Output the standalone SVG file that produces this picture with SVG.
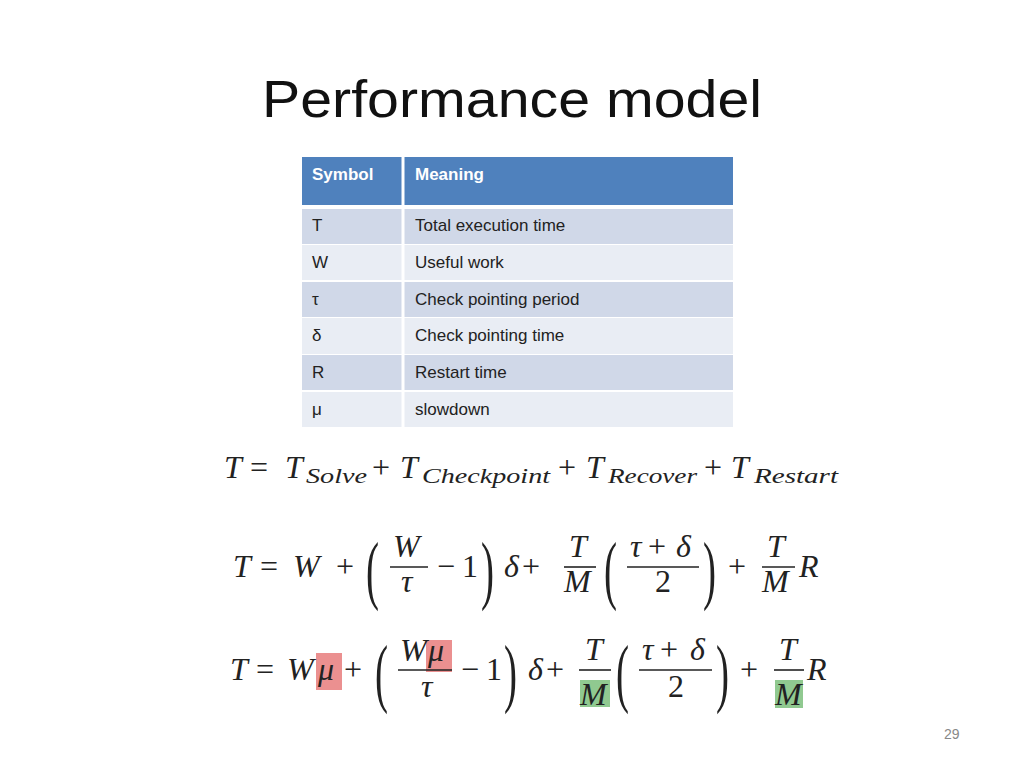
<svg xmlns="http://www.w3.org/2000/svg" width="1024" height="768" viewBox="0 0 1024 768">
<style>
.t{font-family:"Liberation Sans",Arial,sans-serif;font-size:17px;fill:#222}
.h{font-family:"Liberation Sans",Arial,sans-serif;font-size:17px;fill:#fff;font-weight:bold}
.m{font-family:"Liberation Serif","DejaVu Serif",serif;font-size:32px;font-style:italic;fill:#222}
.r{font-family:"Liberation Serif","DejaVu Serif",serif;font-size:32px;fill:#222}
.s{font-family:"Liberation Serif","DejaVu Serif",serif;font-size:22px;font-style:italic;fill:#222}
.p{font-family:"Liberation Serif","DejaVu Serif",serif;font-size:76px;fill:#222}
.bar{stroke:#222;stroke-width:1.6}
.dk{fill:#D0D8E8}.lt{fill:#E9EDF4}
.red{fill:#E87C7C;opacity:.85}.grn{fill:#7CC07C;opacity:.85}
</style>
<rect width="1024" height="768" fill="#fff"/>
<text x="262" y="117" font-family="Liberation Sans,Arial,sans-serif" font-size="52" fill="#111" textLength="500" lengthAdjust="spacingAndGlyphs">Performance model</text>
<g id="table">
<rect x="302" y="157" width="431" height="48" fill="#4F81BD"/>
<text class="h" x="312" y="180">Symbol</text><text class="h" x="415" y="180">Meaning</text>
<rect class="dk" x="302" y="209" width="431" height="35"/>
<rect class="lt" x="302" y="245" width="431" height="35"/>
<rect class="dk" x="302" y="282" width="431" height="35"/>
<rect class="lt" x="302" y="318" width="431" height="36"/>
<rect class="dk" x="302" y="355" width="431" height="35"/>
<rect class="lt" x="302" y="392" width="431" height="35"/>
<g stroke="#fff" stroke-width="3"><line x1="403" y1="157" x2="403" y2="427"/></g>
<text class="t" x="312" y="231">T</text><text class="t" x="415" y="231">Total execution time</text>
<text class="t" x="312" y="268">W</text><text class="t" x="415" y="268">Useful work</text>
<text class="t" x="312" y="305">τ</text><text class="t" x="415" y="305">Check pointing period</text>
<text class="t" x="312" y="341">δ</text><text class="t" x="415" y="341">Check pointing time</text>
<text class="t" x="312" y="378">R</text><text class="t" x="415" y="378">Restart time</text>
<text class="t" x="312" y="415">μ</text><text class="t" x="415" y="415">slowdown</text>
</g>
<g id="eq1">
<text class="m" x="224" y="478">T</text><text class="r" x="250" y="478">=</text>
<text class="m" x="285" y="478">T</text><text class="s" x="306" y="483" textLength="61" lengthAdjust="spacingAndGlyphs">Solve</text>
<text class="r" x="372" y="478">+</text>
<text class="m" x="400" y="478">T</text><text class="s" x="422" y="483" textLength="128" lengthAdjust="spacingAndGlyphs">Checkpoint</text>
<text class="r" x="558" y="478">+</text>
<text class="m" x="586" y="478">T</text><text class="s" x="608" y="483" textLength="89" lengthAdjust="spacingAndGlyphs">Recover</text>
<text class="r" x="704" y="478">+</text>
<text class="m" x="731" y="478">T</text><text class="s" x="754" y="483" textLength="84" lengthAdjust="spacingAndGlyphs">Restart</text>
</g>
<g id="eq2">
<text class="m" x="233" y="577">T</text><text class="r" x="260" y="577">=</text>
<text class="m" x="293" y="577">W</text><text class="r" x="336" y="577">+</text>
<text class="p" x="366" y="595" textLength="13" lengthAdjust="spacingAndGlyphs">(</text>
<text class="m" x="393" y="557">W</text><line class="bar" x1="390" y1="567" x2="428" y2="567"/><text class="m" x="401" y="592">τ</text>
<text class="r" x="437" y="577">−</text><text class="r" x="462" y="577">1</text>
<text class="p" x="481" y="595" textLength="13" lengthAdjust="spacingAndGlyphs">)</text>
<text class="m" x="504" y="577">δ</text><text class="r" x="522" y="577">+</text>
<text class="m" x="569" y="557">T</text><line class="bar" x1="564" y1="567" x2="596" y2="567"/><text class="m" x="564" y="592">M</text>
<text class="p" x="604" y="595" textLength="13" lengthAdjust="spacingAndGlyphs">(</text>
<text class="m" x="630" y="557">τ</text><text class="r" x="648" y="557">+</text><text class="m" x="676" y="557">δ</text>
<line class="bar" x1="627" y1="567" x2="699" y2="567"/><text class="r" x="655" y="592">2</text>
<text class="p" x="703" y="595" textLength="13" lengthAdjust="spacingAndGlyphs">)</text>
<text class="r" x="728" y="577">+</text>
<text class="m" x="767" y="557">T</text><line class="bar" x1="762" y1="567" x2="795" y2="567"/><text class="m" x="762" y="592">M</text>
<text class="m" x="799" y="577">R</text>
</g>
<g id="eq3">
<rect class="red" x="316" y="653" width="26" height="37"/>
<rect class="red" x="426" y="640" width="26" height="32"/>
<rect class="grn" x="580" y="680" width="30" height="27"/>
<rect class="grn" x="775" y="680" width="28" height="28"/>
<text class="m" x="230" y="680">T</text><text class="r" x="256" y="680">=</text>
<text class="m" x="287" y="680">W</text><text class="m" x="318" y="680">μ</text><text class="r" x="344" y="680">+</text>
<text class="p" x="375" y="698" textLength="13" lengthAdjust="spacingAndGlyphs">(</text>
<text class="m" x="400" y="661">W</text><text class="m" x="428" y="661">μ</text>
<line class="bar" x1="398" y1="670" x2="452" y2="670"/><text class="m" x="421" y="697">τ</text>
<text class="r" x="461" y="680">−</text><text class="r" x="486" y="680">1</text>
<text class="p" x="504" y="698" textLength="13" lengthAdjust="spacingAndGlyphs">)</text>
<text class="m" x="528" y="680">δ</text><text class="r" x="546" y="680">+</text>
<text class="m" x="585" y="660">T</text><line class="bar" x1="579" y1="670" x2="611" y2="670"/><text class="m" x="580" y="705">M</text>
<text class="p" x="616" y="698" textLength="13" lengthAdjust="spacingAndGlyphs">(</text>
<text class="m" x="642" y="660">τ</text><text class="r" x="660" y="660">+</text><text class="m" x="690" y="660">δ</text>
<line class="bar" x1="639" y1="670" x2="712" y2="670"/><text class="r" x="668" y="697">2</text>
<text class="p" x="716" y="698" textLength="13" lengthAdjust="spacingAndGlyphs">)</text>
<text class="r" x="740" y="680">+</text>
<text class="m" x="779" y="660">T</text><line class="bar" x1="774" y1="670" x2="804" y2="670"/><text class="m" x="775" y="705">M</text>
<text class="m" x="807" y="680">R</text>
</g>
<text x="944" y="739" font-family="Liberation Sans,Arial,sans-serif" font-size="14" fill="#888">29</text>
</svg>
